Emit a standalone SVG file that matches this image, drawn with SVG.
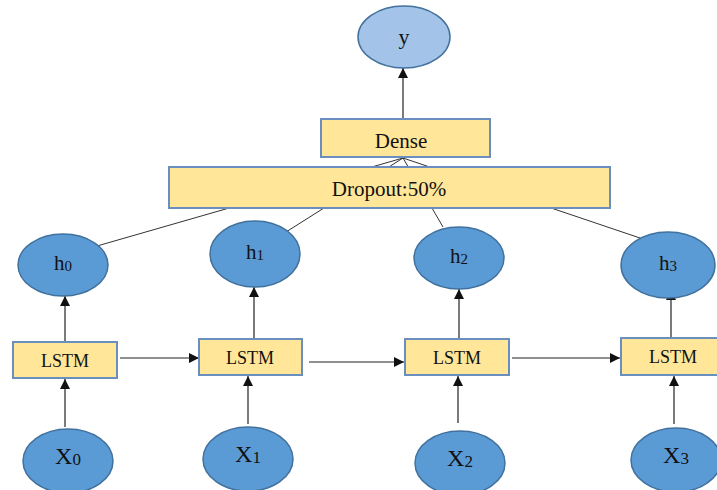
<svg xmlns="http://www.w3.org/2000/svg" width="717" height="490" viewBox="0 0 717 490">
<style>
.node{fill:#5b9bd5;stroke:#41719c;stroke-width:1.5}
.out{fill:#a3c4e8;stroke:#41719c;stroke-width:1.5}
.box{fill:#ffe699;stroke:#6a8fbf;stroke-width:2}
.t{font-family:"Liberation Serif","Times New Roman",serif;fill:#111;text-anchor:middle}
.c{stroke:#222;stroke-width:1.2;fill:none}
.thin{stroke:#333;stroke-width:1;fill:none}
</style>
<defs>
<marker id="ah" viewBox="0 0 10 10" refX="10" refY="5" markerWidth="10" markerHeight="10" markerUnits="userSpaceOnUse" orient="auto">
<path d="M0,0 L10,5 L0,10 z" fill="#111"/>
</marker>
</defs>
<g id="connectors">
<line class="c" x1="403" y1="119" x2="403" y2="68" marker-end="url(#ah)"/>
<line class="thin" x1="97" y1="246" x2="403" y2="158"/>
<line class="thin" x1="286" y1="232" x2="403" y2="158"/>
<line class="thin" x1="443" y1="227" x2="403" y2="158"/>
<line class="thin" x1="640" y1="238" x2="403" y2="158"/>
<line class="c" x1="120" y1="358" x2="199" y2="358" marker-end="url(#ah)"/>
<line class="c" x1="309" y1="362" x2="404" y2="362" marker-end="url(#ah)"/>
<line class="c" x1="512" y1="358" x2="620" y2="358" marker-end="url(#ah)"/>
<line class="c" x1="65" y1="427" x2="65" y2="379" marker-end="url(#ah)"/>
<line class="c" x1="65" y1="342" x2="65" y2="296" marker-end="url(#ah)"/>
<line class="c" x1="248" y1="424" x2="248" y2="376" marker-end="url(#ah)"/>
<line class="c" x1="254" y1="338" x2="254" y2="287" marker-end="url(#ah)"/>
<line class="c" x1="458" y1="423" x2="458" y2="376" marker-end="url(#ah)"/>
<line class="c" x1="459" y1="338" x2="459" y2="289" marker-end="url(#ah)"/>
<line class="c" x1="674" y1="424" x2="674" y2="376" marker-end="url(#ah)"/>
<line class="c" x1="671" y1="338" x2="671" y2="290" marker-end="url(#ah)"/>
</g>
<g id="y">
<ellipse class="out" cx="404" cy="37" rx="46" ry="31"/>
<text class="t" x="404" y="44" font-size="22">y</text>
</g>
<g id="dense">
<rect class="box" x="321" y="119" width="169" height="38"/>
<text class="t" x="401" y="148" font-size="21">Dense</text>
</g>
<g id="dropout">
<rect class="box" x="169" y="167" width="441" height="41"/>
<text class="t" x="389" y="196" font-size="21">Dropout:50%</text>
</g>
<g id="h0">
<ellipse class="node" cx="63" cy="265" rx="45" ry="31"/>
<text class="t" x="63" y="270" font-size="21">h<tspan font-size="15" dy="1">0</tspan></text>
</g>
<g id="h1">
<ellipse class="node" cx="255" cy="254" rx="45" ry="33"/>
<text class="t" x="255" y="259" font-size="21">h<tspan font-size="15" dy="1">1</tspan></text>
</g>
<g id="h2">
<ellipse class="node" cx="459" cy="258" rx="45" ry="31"/>
<text class="t" x="459" y="263" font-size="21">h<tspan font-size="15" dy="1">2</tspan></text>
</g>
<g id="h3">
<ellipse class="node" cx="668" cy="265" rx="47" ry="33"/>
<text class="t" x="668" y="270" font-size="21">h<tspan font-size="15" dy="1">3</tspan></text>
</g>
<g id="lstm0">
<rect class="box" x="13" y="342" width="104" height="36"/>
<text class="t" x="65" y="367" font-size="18">LSTM</text>
</g>
<g id="lstm1">
<rect class="box" x="199" y="339" width="103" height="36"/>
<text class="t" x="250" y="364" font-size="18">LSTM</text>
</g>
<g id="lstm2">
<rect class="box" x="405" y="339" width="104" height="36"/>
<text class="t" x="457" y="364" font-size="18">LSTM</text>
</g>
<g id="lstm3">
<rect class="box" x="621" y="338" width="104" height="37"/>
<text class="t" x="673" y="363" font-size="18">LSTM</text>
</g>
<g id="x0">
<ellipse class="node" cx="68" cy="461" rx="45" ry="32"/>
<text class="t" x="68" y="464" font-size="24">X<tspan font-size="17" dy="1">0</tspan></text>
</g>
<g id="x1">
<ellipse class="node" cx="248" cy="459" rx="45" ry="32"/>
<text class="t" x="248" y="462" font-size="24">X<tspan font-size="17" dy="1">1</tspan></text>
</g>
<g id="x2">
<ellipse class="node" cx="460" cy="463" rx="45" ry="32"/>
<text class="t" x="460" y="466" font-size="24">X<tspan font-size="17" dy="1">2</tspan></text>
</g>
<g id="x3">
<ellipse class="node" cx="676" cy="460" rx="45" ry="32"/>
<text class="t" x="676" y="463" font-size="24">X<tspan font-size="17" dy="1">3</tspan></text>
</g>
</svg>
